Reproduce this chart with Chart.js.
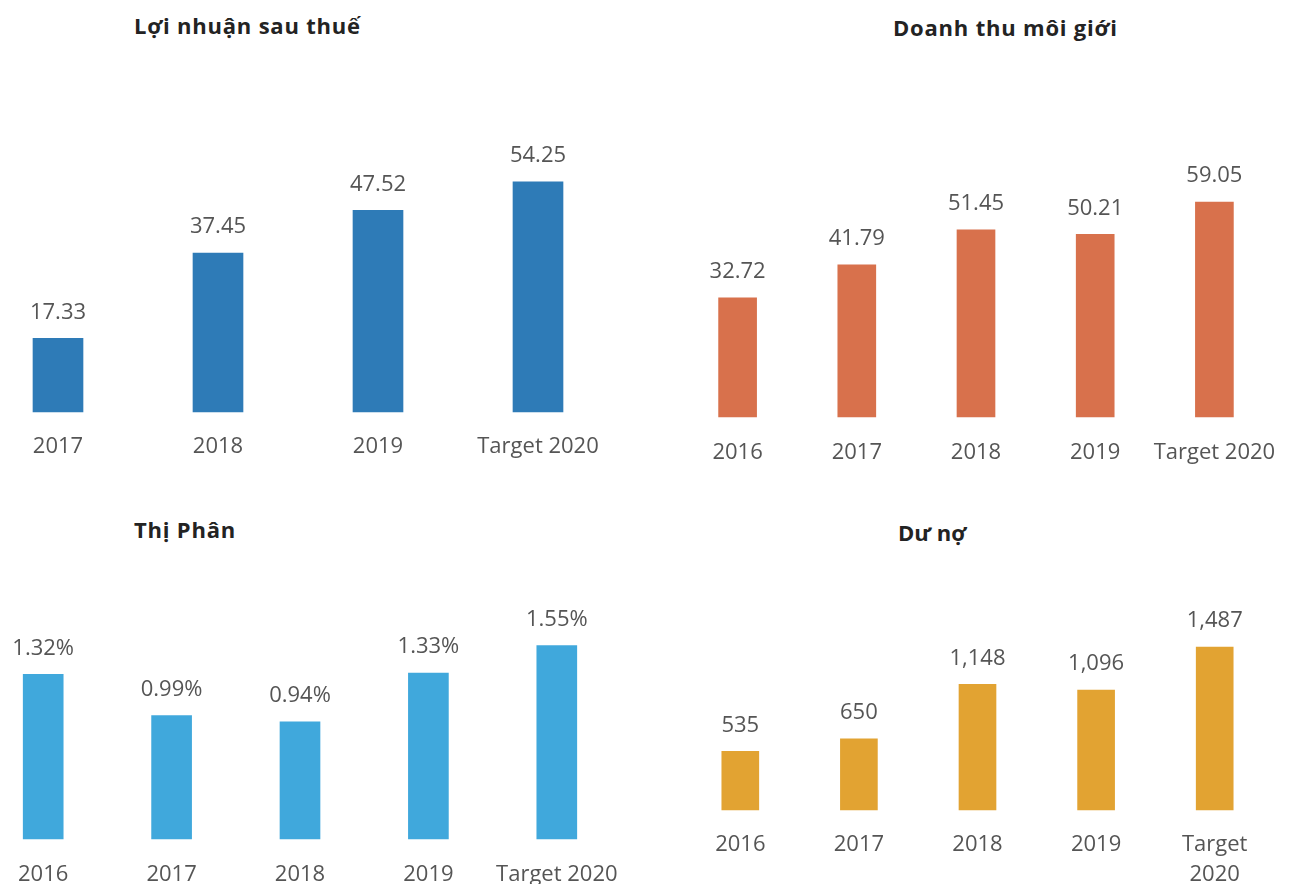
<!DOCTYPE html>
<html>
<head>
<meta charset="utf-8">
<script src="https://cdn.jsdelivr.net/npm/chart.js@4.4.1/dist/chart.umd.min.js"></script>
<style>
  html, body { margin: 0; padding: 0; background: #ffffff; overflow: hidden; width: 1292px; height: 884px; }
  .title { position: absolute; font-family: "Open Sans", sans-serif; font-weight: 700; font-size: 22px; line-height: 24px; letter-spacing: 0.8px; color: #232323; white-space: nowrap; }
  canvas { position: absolute; }
</style>
</head>
<body>
<div class="title" id="t1" style="left:134px; top:13px;">Lợi nhuận sau thuế</div>
<div class="title" id="t2" style="left:893px; top:15px;">Doanh thu môi giới</div>
<div class="title" id="t3" style="left:134px; top:517px;">Thị Phân</div>
<div class="title" id="t4" style="left:898px; top:520px; letter-spacing:0;">Dư nợ</div>
<canvas id="c1"></canvas>
<canvas id="c2"></canvas>
<canvas id="c3"></canvas>
<canvas id="c4"></canvas>
<script>
// ---- Data ----
const profitYears = ['2017', '2018', '2019', 'Target 2020'];
const profitValues = [17.33, 37.45, 47.52, 54.25];

const brokerageYears = ['2016', '2017', '2018', '2019', 'Target 2020'];
const brokerageValues = [32.72, 41.79, 51.45, 50.21, 59.05];

const shareYears = ['2016', '2017', '2018', '2019', 'Target 2020'];
const shareValues = [1.32, 0.99, 0.94, 1.33, 1.55];

const loanYears = ['2016', '2017', '2018', '2019', ['Target', '2020']];
const loanValues = [535, 650, 1148, 1096, 1487];

// ---- Helpers ----
const FONT = '"Open Sans", sans-serif';
const TEXT = '#555555';
const SIDE = 40;

function valueLabels(format) {
  return {
    id: 'valueLabels',
    afterDatasetsDraw(chart) {
      const ctx = chart.ctx;
      const meta = chart.getDatasetMeta(0);
      const data = chart.data.datasets[0].data;
      ctx.save();
      ctx.font = '22px ' + FONT;
      ctx.fillStyle = TEXT;
      ctx.textAlign = 'center';
      ctx.textBaseline = 'middle';
      meta.data.forEach((bar, i) => {
        ctx.fillText(format(data[i]), bar.x, bar.y - 26);
      });
      ctx.restore();
    }
  };
}

function makeChart(id, cfg) {
  const cv = document.getElementById(id);
  const n = cfg.labels.length;
  const catWidth = cfg.spacing * n;
  const left = cfg.firstCenter - cfg.spacing / 2 - SIDE;
  const plotH = cfg.baseline - cfg.top;
  cv.width = catWidth + 2 * SIDE;
  cv.height = plotH + cfg.axisH;
  cv.style.left = left + 'px';
  cv.style.top = cfg.top + 'px';
  return new Chart(cv, {
    type: 'bar',
    data: {
      labels: cfg.labels,
      datasets: [{
        data: cfg.values,
        backgroundColor: cfg.color,
        borderWidth: 0,
        barThickness: cfg.barW,
        clip: false
      }]
    },
    options: {
      responsive: false,
      maintainAspectRatio: false,
      animation: false,
      layout: { padding: { left: SIDE, right: SIDE, top: 0, bottom: 0 } },
      plugins: { legend: { display: false }, tooltip: { enabled: false }, title: { display: false } },
      scales: {
        x: {
          type: 'category',
          offset: true,
          grid: { display: false, drawTicks: false },
          border: { display: false },
          ticks: {
            color: TEXT,
            padding: cfg.tickPad,
            maxRotation: 0,
            autoSkip: false,
            font: { family: FONT, size: 22, lineHeight: cfg.lineH || 1.2 }
          },
          afterFit: (scale) => { scale.height = cfg.axisH; }
        },
        y: {
          display: false,
          min: 0,
          max: cfg.max
        }
      }
    },
    plugins: [valueLabels(cfg.format)]
  });
}

makeChart('c1', {
  labels: profitYears, values: profitValues, color: '#2e7bb7',
  firstCenter: 58, spacing: 160, barW: 50,
  top: 100, baseline: 412, max: 73.5, axisH: 64, tickPad: 22,
  format: v => v.toFixed(2)
});

makeChart('c2', {
  labels: brokerageYears, values: brokerageValues, color: '#d8714c',
  firstCenter: 738, spacing: 119.2, barW: 38,
  top: 100, baseline: 417, max: 87.1, axisH: 64, tickPad: 23,
  format: v => v.toFixed(2)
});

makeChart('c3', {
  labels: shareYears, values: shareValues, color: '#40a8dc',
  firstCenter: 43, spacing: 128.5, barW: 40,
  top: 560, baseline: 839, max: 2.236, axisH: 64, tickPad: 23,
  format: v => v.toFixed(2) + '%'
});

makeChart('c4', {
  labels: loanYears, values: loanValues, color: '#e2a332',
  firstCenter: 740.5, spacing: 118.75, barW: 37,
  top: 560, baseline: 810, max: 2283, axisH: 84, tickPad: 19, lineH: 1.4,
  format: v => v.toLocaleString('en-US')
});
</script>
</body>
</html>
